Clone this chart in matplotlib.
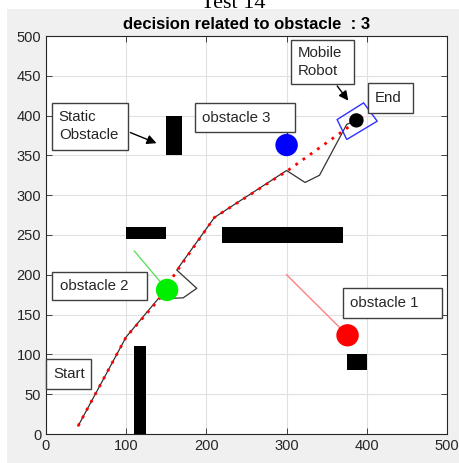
import matplotlib.pyplot as plt
from matplotlib.patches import Rectangle, Circle, Polygon

plt.rcParams['font.family'] = ['Liberation Sans', 'DejaVu Sans']

# static obstacles: (x, y, width, height)
walls = [(150, 350, 20, 50), (100, 245, 50, 15), (220, 240, 150, 20),
         (110, 0, 15, 110), (375, 80, 25, 20)]

# moving obstacles: centre, colour, start of heading line
obs_x = [376, 151, 300]
obs_y = [124, 181, 363]
obs_col = ['#ff0000', '#00ee00', '#0000ff']
obs_line_col = ['#ff8080', '#60e060', '#0000ff']
head_x = [300, 110, 300]
head_y = [200, 230, 400]

# planned path (red dotted)
plan_x = [40, 100, 140, 160, 210, 300, 400]
plan_y = [10, 122, 168, 200, 272, 330, 402]

# actual robot path (black)
path_x = [40, 100, 140, 171, 188, 163, 210, 300, 323, 341, 375, 387]
path_y = [10, 122, 170, 171, 183, 206, 272, 331, 316, 325, 389, 394]

robot = (387, 394)
robot_box = [(363, 395), (396, 416), (413, 393), (375, 370)]

fig = plt.figure(figsize=(4.59, 4.63), dpi=100, facecolor='white')
fig.patches.append(Rectangle((7 / 459, 0), 1, 1 - 9 / 463, transform=fig.transFigure,
                             facecolor='#f0f0f0', edgecolor='none', zorder=-10))
# page caption above the figure, cut off like in the screenshot
fig.text(233 / 459, 1 - 8 / 463, 'Test 14', ha='center', va='baseline',
         family='Liberation Serif', fontsize=16)

ax = fig.add_axes([46 / 459, 1 - 434 / 463, 401 / 459, 398 / 463])
ax.set_xlim(0, 500)
ax.set_ylim(0, 500)
ax.set_xticks(range(0, 501, 100))
ax.set_yticks(range(0, 501, 50))
ax.grid(True, color='#e0e0e0', linewidth=0.8)
ax.set_axisbelow(True)
ax.tick_params(direction='in', top=True, right=True, labelsize=10.5,
               colors='#262626', length=4, width=0.6)
for s in ax.spines.values():
    s.set_color('#262626')
    s.set_linewidth(0.8)
ax.set_title('decision related to obstacle  : 3', fontsize=12, fontweight='bold', pad=5)

for (x, y, w, h) in walls:
    ax.add_patch(Rectangle((x, y), w, h, facecolor='black', edgecolor='none', zorder=3))

ax.plot(path_x, path_y, color='#333333', linewidth=0.9, zorder=4)
ax.plot(plan_x, plan_y, color='red', linestyle=(0, (1, 2.2)), linewidth=2, zorder=5)

for x, y, c, lc, hx, hy in zip(obs_x, obs_y, obs_col, obs_line_col, head_x, head_y):
    ax.plot([hx, x], [hy, y], color=lc, linewidth=1, zorder=4)
    ax.add_patch(Circle((x, y), 14, facecolor=c, edgecolor='none', zorder=6))

ax.add_patch(Circle(robot, 9, facecolor='black', edgecolor='none', zorder=7))
ax.add_patch(Polygon(robot_box, closed=True, fill=False, edgecolor='#3030ff',
                     linewidth=1, zorder=7))

# label boxes: (x, y, width, height, text)
labels = [(7, 357, 95, 59, 'Static\nObstacle'),
          (186, 379, 125, 37, 'obstacle 3'),
          (305, 440, 79, 55, 'Mobile\nRobot'),
          (401, 403, 57, 38, 'End'),
          (8, 168, 118, 36, 'obstacle 2'),
          (370, 146, 124, 38, 'obstacle 1'),
          (0, 56, 56, 38, 'Start')]
for (x, y, w, h, t) in labels:
    ax.add_patch(Rectangle((x, y), w, h, facecolor='white', edgecolor='#404040',
                           linewidth=1, zorder=8, clip_on=False))
    ax.text(x + 9, y + h / 2, t, ha='left', va='center', fontsize=10.8,
            color='#262626', linespacing=1.35, zorder=9)

arrow = dict(arrowstyle='-|>', color='black', linewidth=1, mutation_scale=14)
ax.annotate('', xy=(141, 364), xytext=(102, 380), arrowprops=arrow, zorder=9)
ax.annotate('', xy=(379, 416), xytext=(361, 440), arrowprops=arrow, zorder=9)

fig.savefig('out.png', dpi=100, facecolor=fig.get_facecolor())
